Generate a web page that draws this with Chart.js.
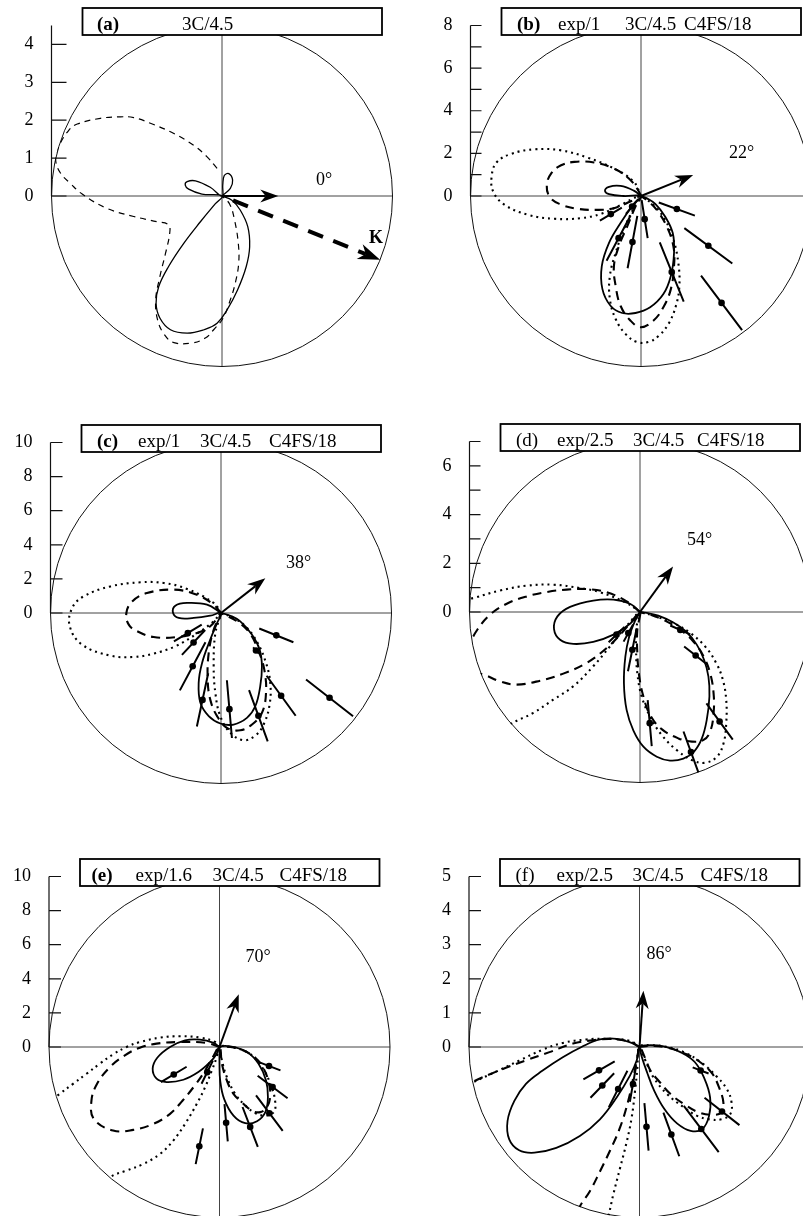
<!DOCTYPE html>
<html>
<head>
<meta charset="utf-8">
<title>Polar distributions (a)-(f)</title>
<script src="https://cdn.jsdelivr.net/npm/chart.js@4.4.1/dist/chart.umd.min.js"></script>
<style>
  html, body { margin: 0; padding: 0; background: #fff; overflow: hidden; }
  body { position: relative; width: 803px; height: 1216px; }
  canvas { position: absolute; }
</style>
</head>
<body>
<script>
// radius of the outer circle (= top of the left axis) for each panel
const axisMax = [4.5, 8, 10, 7, 10, 5];
// field direction drawn as the arrow, degrees
const fieldAngles = [0, 22, 38, 54, 70, 86];
// direction of K in panel (a)
const kAngle = -22;

// tick labels and tick marks of the left axis
const aLabels = [0, 1, 2, 3, 4];
const aMarks = [0, 1, 2, 3, 4];
const bLabels = [0, 2, 4, 6, 8];
const bMarks = [0, 1, 2, 3, 4, 5, 6, 7, 8];
const cLabels = [0, 2, 4, 6, 8, 10];
const cMarks = [0, 2, 4, 6, 8, 10];
const dLabels = [0, 2, 4, 6];
const dMarks = [0, 1, 2, 3, 4, 5, 6, 7];
const eLabels = [0, 2, 4, 6, 8, 10];
const eMarks = [0, 2, 4, 6, 8, 10];
const fLabels = [0, 1, 2, 3, 4, 5];
const fMarks = [0, 1, 2, 3, 4, 5];

// title box texts: [text, bold]
const aTitle = [['(a)', true], ['3C/4.5', false]];
const bTitle = [['(b)', true], ['exp/1', false], ['3C/4.5', false], ['C4FS/18', false]];
const cTitle = [['(c)', true], ['exp/1', false], ['3C/4.5', false], ['C4FS/18', false]];
const dTitle = [['(d)', false], ['exp/2.5', false], ['3C/4.5', false], ['C4FS/18', false]];
const eTitle = [['(e)', true], ['exp/1.6', false], ['3C/4.5', false], ['C4FS/18', false]];
const fTitle = [['(f)', false], ['exp/2.5', false], ['3C/4.5', false], ['C4FS/18', false]];

// ---- panel (a) curves, [x, y] in axis units
const aSolid = [[0,0],[0.22,0.20],[0.28,0.42],[0.18,0.59],[0.06,0.54],[0.02,0.29],[0,0],
  [-0.31,0.23],[-0.70,0.40],[-0.92,0.38],[-0.97,0.29],[-0.88,0.18],[-0.53,0.05],[0,0],
  [-0.18,-0.21],[-0.57,-0.68],[-1.01,-1.25],[-1.41,-1.86],[-1.67,-2.39],[-1.74,-2.83],[-1.64,-3.22],
  [-1.36,-3.53],[-0.92,-3.62],[-0.48,-3.53],[-0.13,-3.36],[0.13,-3.01],[0.41,-2.48],[0.64,-1.86],
  [0.73,-1.34],[0.68,-0.81],[0.48,-0.37],[0.26,-0.11],[0,0]];
const aDashed = [[-0.13,0.73],[-0.40,1.04],[-0.75,1.34],[-1.27,1.65],[-1.89,1.92],[-2.33,2.07],
  [-2.68,2.09],[-3.21,2.05],[-3.82,1.90],[-4.04,1.74],[-4.31,1.30],[-4.39,0.95],[-4.26,0.60],
  [-4.00,0.33],[-3.69,0.05],[-3.03,-0.33],[-2.33,-0.54],[-1.71,-0.68],[-1.41,-0.76],[-1.38,-0.98],
  [-1.49,-1.51],[-1.64,-2.13],[-1.75,-2.74],[-1.70,-3.27],[-1.52,-3.66],[-1.27,-3.87],[-0.79,-3.88],
  [-0.44,-3.75],[-0.22,-3.53],[0.03,-3.22],[0.22,-2.74],[0.35,-2.30],[0.44,-1.78],[0.43,-1.25],
  [0.33,-0.63],[0.20,-0.21],[0,0]];

// ---- panel (b)
const bSolid = [[0,0],[-0.34,0.25],[-0.96,0.47],[-1.50,0.43],[-1.69,0.25],[-1.50,0.09],[-0.81,0.0],[0,0],
  [-0.34,-0.37],[-0.96,-1.27],[-1.50,-2.20],[-1.84,-3.29],[-1.81,-4.37],[-1.43,-5.15],[-0.88,-5.49],
  [-0.26,-5.49],[0.43,-5.22],[1.05,-4.60],[1.40,-3.75],[1.55,-2.67],[1.49,-1.74],[1.13,-0.96],
  [0.67,-0.37],[0.28,-0.11],[0,0]];
const bDashed = [[0,0],[-0.16,0.31],[-0.57,0.82],[-1.27,1.29],[-2.20,1.57],[-3.13,1.60],[-3.75,1.44],
  [-4.22,1.05],[-4.42,0.51],[-4.29,-0.03],[-3.83,-0.37],[-2.98,-0.60],[-2.05,-0.65],[-1.27,-0.57],
  [-0.50,-0.26],[0,0],
  [-0.26,-0.50],[-0.65,-1.43],[-1.04,-2.36],[-1.27,-3.29],[-1.19,-4.22],[-0.96,-5.15],[-0.50,-5.84],
  [0,-6.16],[0.59,-5.84],[1.05,-5.22],[1.40,-4.37],[1.55,-3.29],[1.52,-2.36],[1.21,-1.43],
  [0.74,-0.65],[0.36,-0.26],[0,0]];
const bDotted = [[0,0],[-0.34,0.67],[-1.27,1.29],[-2.51,1.80],[-3.75,2.14],[-4.99,2.19],[-6.08,1.98],
  [-6.78,1.57],[-7.01,0.90],[-6.93,0.20],[-6.39,-0.42],[-5.30,-0.88],[-4.06,-1.07],[-2.82,-1.04],
  [-1.89,-0.84],[-1.12,-0.50],[0,0],
  [-0.34,-0.57],[-0.81,-1.58],[-1.19,-2.67],[-1.46,-3.75],[-1.46,-4.84],[-1.19,-5.77],[-0.73,-6.47],
  [-0.19,-6.85],[0.36,-6.85],[0.82,-6.57],[1.29,-6.00],[1.64,-5.15],[1.80,-4.22],[1.75,-3.13],
  [1.52,-2.05],[1.13,-1.12],[0.59,-0.42],[0,0]];
const bAngles = [-20, -36.5, -53, -68, -81, -100.5, -118, -130, -149];
const bValues = [1.79, 3.93, 6.28, 3.85, 1.1, 2.2, 2.24, 0.65, 1.65];
const bErrors = [0.9, 1.4, 1.6, 1.5, 0.9, 1.25, 1.2, 0.45, 0.6];

// ---- panel (c)
const cSolid = [[0,0],[-0.82,0.49],[-1.99,0.59],[-2.68,0.43],[-2.81,0],[-2.48,-0.29],[-1.60,-0.29],
  [-0.63,-0.16],[0,0],
  [-0.23,-0.59],[-0.63,-1.56],[-1.11,-2.93],[-1.31,-4.10],[-1.21,-5.27],[-0.72,-6.05],[-0.04,-6.48],
  [0.74,-6.54],[1.52,-6.15],[2.01,-5.47],[2.30,-4.30],[2.40,-3.13],[2.27,-2.15],[1.82,-1.27],
  [1.13,-0.49],[0.55,-0.16],[0,0]];
const cDashed = [[0,0],[-0.43,0.49],[-1.41,1.07],[-2.77,1.37],[-4.34,1.17],[-5.21,0.68],[-5.55,0],
  [-5.41,-0.68],[-4.92,-1.07],[-3.95,-1.41],[-2.58,-1.41],[-1.41,-1.17],[-0.63,-0.78],[0,0],
  [-0.43,-0.98],[-0.72,-2.34],[-0.78,-3.91],[-0.63,-5.08],[-0.23,-6.05],[0.35,-6.74],[1.13,-6.88],
  [1.82,-6.54],[2.40,-5.86],[2.64,-4.69],[2.54,-3.32],[2.21,-2.25],[1.68,-1.17],[0.94,-0.49],[0,0]];
const cDotted = [[0,0],[-0.43,0.59],[-1.99,1.41],[-3.36,1.76],[-4.73,1.80],[-6.48,1.56],[-8.05,0.98],
  [-8.73,0.29],[-8.87,-0.78],[-8.14,-1.86],[-6.48,-2.50],[-5.12,-2.58],[-3.95,-2.38],[-2.68,-1.95],
  [-1.41,-1.21],[-0.43,-0.49],[0,0],
  [-0.33,-1.17],[-0.43,-3.13],[-0.33,-4.69],[-0.04,-6.05],[0.55,-7.03],[1.33,-7.46],[2.01,-7.19],
  [2.50,-6.54],[2.85,-5.37],[2.89,-4.10],[2.64,-2.93],[2.15,-1.76],[1.48,-0.82],[0.74,-0.29],[0,0]];
const cAngles = [-22, -38, -47, -54, -70, -85, -102, -118, -133, -149];
const cValues = [3.5, 8.08, 3.01, 6.0, 6.41, 5.66, 5.21, 3.54, 2.36, 2.27];
const cErrors = [1.08, 1.75, 0.25, 1.45, 1.6, 1.7, 1.6, 1.6, 1.0, 0.95];

// ---- panel (d)
const dSolid = [[0,0],[-0.41,0.34],[-1.09,0.51],[-1.92,0.47],[-2.87,0.21],[-3.39,-0.18],[-3.53,-0.70],
  [-3.28,-1.14],[-2.74,-1.31],[-1.92,-1.23],[-1.09,-0.93],[-0.41,-0.48],[0,0],
  [-0.21,-0.38],[-0.44,-1.00],[-0.60,-1.82],[-0.66,-2.92],[-0.55,-4.02],[-0.27,-4.87],[0.14,-5.53],
  [0.69,-5.94],[1.23,-6.10],[1.78,-6.02],[2.22,-5.73],[2.54,-5.19],[2.74,-4.43],[2.85,-3.47],
  [2.81,-2.65],[2.63,-1.96],[2.33,-1.34],[1.89,-0.80],[1.37,-0.43],[0.75,-0.15],[0.27,-0.04],[0,0]];
const dDashed = [[0,0],[-0.55,0.44],[-1.37,0.81],[-2.19,0.94],[-3.01,0.92],[-3.83,0.82],[-4.65,0.64],
  [-5.47,0.34],[-6.16,-0.11],[-6.68,-0.73],[-7.05,-1.41],[-7.46,-2.23],[-7.11,-2.44],[-6.43,-2.57],
  [-5.75,-2.85],[-5.06,-2.98],[-4.10,-2.82],[-3.15,-2.53],[-2.19,-2.09],[-1.37,-1.48],[-0.75,-0.86],
  [-0.34,-0.38],[0,0],
  [-0.11,-0.73],[-0.11,-1.69],[-0.03,-2.65],[0.14,-3.47],[0.41,-4.22],[0.89,-4.81],[1.58,-5.19],
  [2.13,-5.32],[2.61,-5.25],[2.88,-4.91],[3.02,-4.16],[3.02,-3.33],[2.88,-2.51],[2.61,-1.82],
  [2.19,-1.21],[1.65,-0.73],[0.96,-0.32],[0.41,-0.11],[0,0]];
const dDotted = [[0,0],[-0.55,0.37],[-1.64,0.81],[-2.46,0.98],[-3.56,1.12],[-4.65,1.08],[-5.75,0.88],
  [-6.77,0.59],[-7.66,0.34],[-7.93,-0.86],[-7.39,-3.60],[-5.88,-5.10],[-5.34,-4.62],[-4.38,-4.14],
  [-3.56,-3.60],[-2.74,-3.05],[-1.92,-2.23],[-1.23,-1.41],[-0.68,-0.73],[0,0],
  [-0.14,-0.59],[-0.16,-1.55],[-0.11,-2.51],[0.07,-3.47],[0.41,-4.29],[0.89,-5.05],[1.51,-5.67],
  [2.13,-6.08],[2.67,-6.19],[3.16,-5.94],[3.43,-5.39],[3.54,-4.57],[3.54,-3.61],[3.40,-2.78],
  [3.13,-2.10],[2.67,-1.41],[2.06,-0.86],[1.37,-0.45],[0.55,-0.15],[0,0]];
const dAngles = [-24, -38, -54, -70, -85, -101.5, -119, -136];
const dValues = [1.81, 2.9, 5.56, 6.12, 4.58, 1.58, 0.99, 1.34];
const dErrors = [0.45, 0.6, 0.92, 0.9, 0.95, 0.9, 0.4, 0.45];

// ---- panel (e)
const eSolid = [[0,0],[-0.35,0.24],[-1.14,0.43],[-2.02,0.39],[-2.90,0],[-3.65,-0.63],[-3.92,-1.27],
  [-3.69,-1.86],[-3.10,-2.06],[-2.12,-1.92],[-1.24,-1.47],[-0.55,-0.88],[-0.16,-0.39],[0,0],
  [0.63,0.04],[1.61,-0.29],[2.29,-0.98],[2.73,-1.96],[2.84,-2.94],[2.69,-3.82],[2.20,-4.35],
  [1.51,-4.47],[0.82,-4.02],[0.27,-3.04],[0.04,-1.96],[0,-0.98],[0,0]];
const eDashed = [[0,0],[-0.75,0.24],[-2.31,0.29],[-3.69,0.20],[-4.67,-0.04],[-5.55,-0.49],[-6.43,-1.18],
  [-7.18,-2.16],[-7.51,-3.14],[-7.37,-4.22],[-6.24,-4.90],[-5.06,-4.86],[-3.88,-4.51],[-2.90,-3.92],
  [-2.16,-3.14],[-1.49,-2.31],[-0.90,-1.47],[-0.39,-0.59],[0,0],
  [0.14,-0.98],[0.43,-1.96],[0.82,-2.75],[1.31,-3.24],[1.90,-3.73],[2.39,-3.82],[2.78,-3.53],
  [2.98,-2.84],[2.88,-2.06],[2.59,-1.27],[2.10,-0.63],[1.31,-0.16],[0.63,0],[0,0]];
const eDotted = [[0,0],[-0.25,0.29],[-1.14,0.55],[-2.31,0.63],[-3.49,0.55],[-4.67,0.29],[-5.45,0],
  [-6.24,-0.43],[-7.02,-0.98],[-7.80,-1.57],[-8.59,-2.16],[-9.37,-2.75],[-10.55,-3.73],[-9.96,-7.06],
  [-7.02,-8.43],[-6.43,-7.65],[-5.45,-7.25],[-4.47,-6.86],[-3.49,-6.27],[-2.71,-5.49],[-2.02,-4.51],
  [-1.33,-3.33],[-0.84,-2.35],[-0.45,-1.37],[-0.16,-0.59],[0,0],
  [0.63,0],[1.71,-0.35],[2.49,-1.18],[3.02,-2.25],[3.27,-3.24],[3.18,-3.82],[2.69,-4.02],[2.10,-3.88],
  [1.51,-3.43],[0.92,-2.75],[0.43,-1.76],[0.14,-0.78],[0,0]];
const eAngles = [-21, -37, -53, -69, -85, -101.5, -116, -149];
const eValues = [3.11, 3.9, 4.86, 5.02, 4.46, 5.94, 1.64, 3.13];
const eErrors = [0.72, 1.1, 1.3, 1.25, 1.1, 1.07, 0.76, 0.88];

// ---- panel (f)
const fSolid = [[0,0],[-0.23,0.12],[-0.67,0.24],[-1.16,0.22],[-1.70,0],[-2.25,-0.30],[-2.84,-0.69],
  [-3.33,-1.08],[-3.67,-1.58],[-3.87,-2.17],[-3.82,-2.71],[-3.53,-3.03],[-3.08,-3.10],[-2.44,-2.96],
  [-1.75,-2.61],[-1.16,-2.12],[-0.67,-1.48],[-0.28,-0.84],[-0.08,-0.39],[0,0],
  [0.22,0.05],[0.71,0.02],[1.20,-0.15],[1.62,-0.44],[1.91,-0.94],[2.07,-1.48],[2.04,-2.02],
  [1.84,-2.41],[1.50,-2.46],[1.10,-2.24],[0.73,-1.82],[0.43,-1.28],[0.22,-0.74],[0.07,-0.30],[0,0]];
const fDashed = [[0,0],[-0.28,0.15],[-0.77,0.23],[-1.36,0.20],[-1.95,0.10],[-2.64,-0.15],[-3.33,-0.39],
  [-4.12,-0.69],[-4.91,-1.03],[-5.60,-1.38],[-6.09,-3.55],[-3.13,-5.52],[-1.95,-5.22],[-1.75,-4.68],
  [-1.46,-4.24],[-1.16,-3.65],[-0.87,-3.05],[-0.57,-2.36],[-0.33,-1.58],[-0.18,-0.89],[-0.06,-0.30],[0,0],
  [0.17,-0.34],[0.32,-0.69],[0.56,-0.99],[0.91,-1.38],[1.30,-1.67],[1.74,-1.92],[2.14,-1.99],
  [2.40,-1.92],[2.46,-1.63],[2.33,-1.18],[2.14,-0.79],[1.84,-0.49],[1.40,-0.22],[0.81,-0.02],
  [0.32,0.03],[0,0]];
const fDotted = [[0,0],[-0.28,0.18],[-0.97,0.24],[-1.56,0.22],[-2.25,0.12],[-2.84,-0.08],[-3.53,-0.40],
  [-4.20,-0.72],[-4.91,-1.05],[-5.60,-1.40],[-4.12,-6.01],[-1.16,-5.71],[-0.92,-4.98],[-0.77,-4.33],
  [-0.57,-3.55],[-0.37,-2.76],[-0.23,-2.07],[-0.13,-1.28],[-0.06,-0.59],[0,0],
  [0.32,0.05],[0.81,0],[1.30,-0.15],[1.79,-0.44],[2.24,-0.84],[2.56,-1.23],[2.70,-1.63],[2.66,-1.97],
  [2.40,-2.12],[2.04,-2.12],[1.69,-2.02],[1.30,-1.77],[0.81,-1.38],[0.41,-0.89],[0.17,-0.39],[0,0]];
const fAngles = [-21, -38, -53, -70, -85, -100, -117, -134, -150];
const fValues = [1.92, 3.07, 3.01, 2.73, 2.35, 1.10, 1.38, 1.57, 1.37];
const fErrors = [0.25, 0.65, 0.85, 0.68, 0.7, 0.53, 0.6, 0.5, 0.53];

// ---------------------------------------------------------------
const serif = '"Liberation Serif", "Times New Roman", serif';
Chart.defaults.font.family = serif;
const D = Math.PI / 180;
const RP = 170.5;   // circle radius on the page, px

// page layout of each panel: centre of the circle, canvas left, title offsets, label offsets
const panels = [
  {max: axisMax[0], field: fieldAngles[0], cx: 222, cy: 196, left: 0, tickLen: 15,
   labels: aLabels, marks: aMarks, title: aTitle, titleX: [-125, -40], note: [94, -11], thin: true,
   solid: aSolid, dashed: aDashed, dotted: null, angles: null},
  {max: axisMax[1], field: fieldAngles[1], cx: 641, cy: 196, left: 400, tickLen: 11,
   labels: bLabels, marks: bMarks, title: bTitle, titleX: [-124, -83, -16, 43], note: [88, -38],
   solid: bSolid, dashed: bDashed, dotted: bDotted, angles: bAngles, values: bValues, errors: bErrors},
  {max: axisMax[2], field: fieldAngles[2], cx: 221, cy: 613, left: 0, tickLen: 12,
   labels: cLabels, marks: cMarks, title: cTitle, titleX: [-124, -83, -21, 48], note: [65, -45],
   solid: cSolid, dashed: cDashed, dotted: cDotted, angles: cAngles, values: cValues, errors: cErrors},
  {max: axisMax[3], field: fieldAngles[3], cx: 640, cy: 612, left: 400, tickLen: 11,
   labels: dLabels, marks: dMarks, title: dTitle, titleX: [-124, -83, -7, 57], note: [47, -67],
   solid: dSolid, dashed: dDashed, dotted: dDotted, angles: dAngles, values: dValues, errors: dErrors},
  {max: axisMax[4], field: fieldAngles[4], cx: 219.5, cy: 1047, left: 0, tickLen: 12,
   labels: eLabels, marks: eMarks, title: eTitle, titleX: [-128, -84, -7, 60], note: [26, -85],
   solid: eSolid, dashed: eDashed, dotted: eDotted, angles: eAngles, values: eValues, errors: eErrors},
  {max: axisMax[5], field: fieldAngles[5], cx: 639.5, cy: 1047, left: 400, tickLen: 12,
   labels: fLabels, marks: fMarks, title: fTitle, titleX: [-124, -83, -7, 61], note: [7, -88],
   solid: fSolid, dashed: fDashed, dotted: fDotted, angles: fAngles, values: fValues, errors: fErrors}
];

function pts(arr) {
  return arr.map(p => ({x: p[0], y: p[1]}));
}
function polarDots(angles, values) {
  return angles.map((t, i) => ({x: values[i] * Math.cos(t * D), y: values[i] * Math.sin(t * D)}));
}
// radial error bars, one segment per measurement
function polarBars(angles, values, errors) {
  const out = [];
  angles.forEach((t, i) => {
    const lo = values[i] - errors[i], hi = values[i] + errors[i];
    out.push({x: lo * Math.cos(t * D), y: lo * Math.sin(t * D)});
    out.push({x: hi * Math.cos(t * D), y: hi * Math.sin(t * D)});
    out.push({x: null, y: null});
  });
  return out;
}

function arrow(ctx, x0, y0, x1, y1, lw, hl, hw, dash) {
  const a = Math.atan2(y1 - y0, x1 - x0);
  const ca = Math.cos(a), sa = Math.sin(a);
  const bx = x1 - hl * 0.7 * ca, by = y1 - hl * 0.7 * sa;
  ctx.save();
  ctx.lineWidth = lw;
  ctx.setLineDash(dash || []);
  ctx.beginPath();
  ctx.moveTo(x0, y0);
  ctx.lineTo(bx, by);
  ctx.stroke();
  ctx.setLineDash([]);
  ctx.beginPath();
  ctx.moveTo(x1, y1);
  ctx.lineTo(x1 - hl * ca - hw * sa, y1 - hl * sa + hw * ca);
  ctx.lineTo(bx, by);
  ctx.lineTo(x1 - hl * ca + hw * sa, y1 - hl * sa - hw * ca);
  ctx.closePath();
  ctx.fill();
  ctx.restore();
}

// circle, cross, left axis, arrows, title box
function framePlugin(p) {
  return {
    id: 'polarFrame',
    beforeDatasetsDraw(chart) {
      const {ctx} = chart;
      const xs = chart.scales.x, ys = chart.scales.y;
      const cx = xs.getPixelForValue(0), cy = ys.getPixelForValue(0);
      const r = xs.getPixelForValue(p.max) - cx;
      ctx.save();
      ctx.lineWidth = 1;
      ctx.strokeStyle = '#444';
      ctx.beginPath();
      ctx.moveTo(cx - r, cy); ctx.lineTo(cx + r, cy);
      ctx.moveTo(cx, cy - r); ctx.lineTo(cx, cy + r);
      ctx.stroke();
      ctx.strokeStyle = '#111';
      ctx.beginPath();
      ctx.arc(cx, cy, r, 0, Math.PI * 2);
      ctx.stroke();
      const ax = cx - r;
      ctx.lineWidth = 1.2;
      ctx.beginPath();
      ctx.moveTo(ax, cy);
      ctx.lineTo(ax, ys.getPixelForValue(p.max));
      p.marks.forEach(v => {
        const ty = ys.getPixelForValue(v);
        ctx.moveTo(ax, ty);
        ctx.lineTo(ax + p.tickLen, ty);
      });
      ctx.stroke();
      ctx.restore();
      // curves stay inside the circle
      ctx.save();
      ctx.beginPath();
      ctx.arc(cx, cy, r + 0.5, 0, Math.PI * 2);
      ctx.clip();
    },
    afterDatasetsDraw(chart) {
      const {ctx} = chart;
      ctx.restore();
      const xs = chart.scales.x, ys = chart.scales.y;
      const cx = xs.getPixelForValue(0), cy = ys.getPixelForValue(0);
      ctx.save();
      ctx.fillStyle = '#000';
      ctx.strokeStyle = '#000';
      const L = p.max * 0.33, t = p.field * D;
      arrow(ctx, cx, cy, xs.getPixelForValue(L * Math.cos(t)), ys.getPixelForValue(L * Math.sin(t)), 2, 18, 6.5);
      if (p.thin) {
        const k = kAngle * D;
        const r0 = p.max * 0.07;
        arrow(ctx, xs.getPixelForValue(r0 * Math.cos(k)), ys.getPixelForValue(r0 * Math.sin(k)),
          xs.getPixelForValue(p.max * Math.cos(k)), ys.getPixelForValue(p.max * Math.sin(k)), 4, 22, 8, [16, 11]);
        ctx.font = 'bold 18px ' + serif;
        ctx.fillText('K', cx + 147, cy + 47);
      }
      ctx.font = '18px ' + serif;
      ctx.textBaseline = 'alphabetic';
      ctx.fillText(p.field + '\u00B0', cx + p.note[0], cy + p.note[1]);
      // title box
      const bx = cx - 139.5, by = cy - 188;
      ctx.fillStyle = '#fff';
      ctx.fillRect(bx, by, 299.5, 27);
      ctx.lineWidth = 1.8;
      ctx.strokeRect(bx, by, 299.5, 27);
      ctx.fillStyle = '#000';
      p.title.forEach((item, i) => {
        ctx.font = (item[1] ? 'bold ' : '') + '19px ' + serif;
        ctx.fillText(item[0], cx + p.titleX[i], cy - 166.5);
      });
      ctx.restore();
    }
  };
}

function curve(data, width, dash) {
  return {data: pts(data), showLine: true, borderColor: '#000', borderWidth: width,
          borderDash: dash, pointRadius: 0, tension: 0.4, fill: false};
}

panels.forEach(p => {
  const W = p.left === 0 ? 400 : 430, H = 420;
  const top = p.cy - 210;
  const canvas = document.createElement('canvas');
  canvas.width = W;
  canvas.height = H;
  canvas.style.left = p.left + 'px';
  canvas.style.top = top + 'px';
  document.body.appendChild(canvas);

  const axisW = p.cx - RP - p.left;
  const padTop = p.cy - RP - top;
  const padRight = W - axisW - 2 * RP;
  const padBottom = H - padTop - 2 * RP;

  const datasets = [];
  if (p.dotted) datasets.push(curve(p.dotted, 2.1, [2, 4]));
  datasets.push(curve(p.dashed, p.thin ? 1.2 : 2.1, p.thin ? [6, 5] : [9, 6]));
  datasets.push(curve(p.solid, p.thin ? 1.3 : 1.8, []));
  if (p.angles) {
    datasets.push({data: polarBars(p.angles, p.values, p.errors), showLine: true, borderColor: '#000',
                   borderWidth: 2, pointRadius: 0, tension: 0, spanGaps: false});
    datasets.push({data: polarDots(p.angles, p.values), showLine: false, pointRadius: 3.3,
                   pointBackgroundColor: '#000', pointBorderWidth: 0});
  }

  new Chart(canvas, {
    type: 'scatter',
    data: {datasets},
    options: {
      responsive: false,
      animation: false,
      events: [],
      layout: {padding: {top: padTop, right: padRight, bottom: padBottom, left: 0}},
      plugins: {legend: {display: false}, tooltip: {enabled: false}},
      scales: {
        x: {type: 'linear', min: -p.max, max: p.max, display: false},
        y: {
          type: 'linear', min: -p.max, max: p.max, position: 'left',
          afterBuildTicks: s => { s.ticks = p.labels.map(v => ({value: v})); },
          afterFit: s => { s.width = axisW; },
          grid: {display: false, drawTicks: false},
          border: {display: false},
          ticks: {padding: 18, color: '#000', autoSkip: false, font: {size: 18, family: serif}}
        }
      }
    },
    plugins: [framePlugin(p)]
  });
});
</script>
</body>
</html>
